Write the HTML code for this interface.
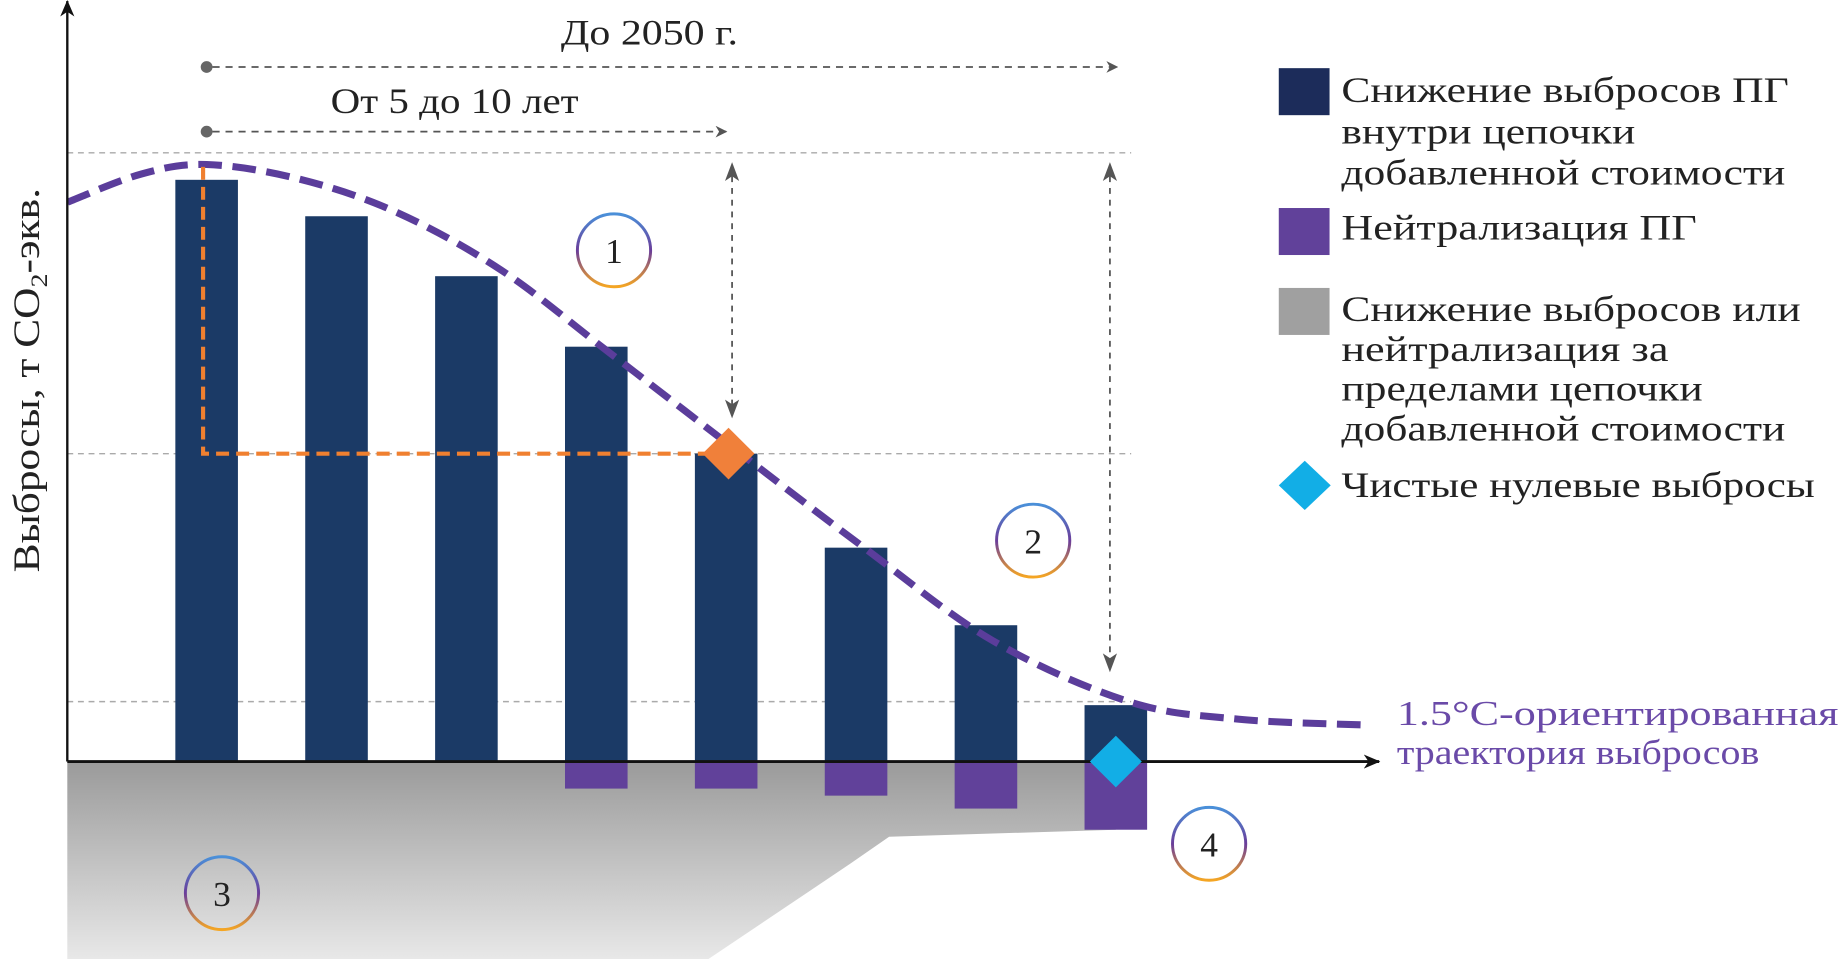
<!DOCTYPE html>
<html><head><meta charset="utf-8"><style>
html,body{margin:0;padding:0;background:#fff;}
svg{display:block;font-family:"Liberation Serif","Noto Serif CJK SC",serif;}
</style></head><body>
<svg id="chart" width="1842" height="959" viewBox="0 0 1560 816" preserveAspectRatio="none" xmlns="http://www.w3.org/2000/svg">
<defs>
<linearGradient id="grayGrad" x1="0" y1="0" x2="0" y2="1">
<stop offset="0" stop-color="#9a9a9a"/><stop offset="1" stop-color="#e8e8e8"/></linearGradient>
<linearGradient id="ringGrad" x1="0" y1="0" x2="0" y2="1">
<stop offset="0" stop-color="#4a90d9"/><stop offset="0.5" stop-color="#6a3d9a"/><stop offset="1" stop-color="#f5a623"/></linearGradient>
<marker id="arrGray" markerWidth="10" markerHeight="10" refX="9" refY="5" orient="auto" markerUnits="userSpaceOnUse"><path d="M0,0 L10,5 L0,10 L3,5 Z" fill="#555"/></marker>
<marker id="arrBlack" markerWidth="14" markerHeight="12" refX="13" refY="6" orient="auto" markerUnits="userSpaceOnUse"><path d="M0,0 L14,6 L0,12 L4,6 Z" fill="#111"/></marker>
</defs>
<g id="plot"></g>
<g id="overlay"></g>
</svg>
<script>
const categories = ['s1','s2','s3','s4','s5','s6','s7','s8'];
const reductionValues = [99, 92.8, 82.6, 70.6, 52.4, 36.4, 23.2, 9.6];
const neutralizationValues = [0, 0, 0, 4.6, 4.6, 5.8, 8, 11.6];
const curveX = [-1.07, -0.5, 0, 0.7, 1.45, 2.27, 3.1, 4.1, 5.05, 6.05, 7.1, 7.95, 8.95];
const curveY = [95.2, 100, 101.6, 99.2, 93.6, 83.6, 69.6, 52.6, 36.6, 20.6, 10.2, 7.2, 6.2];
const gridValues = [103.6, 52.4, 10.2];

const NS = 'http://www.w3.org/2000/svg';
const X0 = 175, XSTEP = 110, Y0 = 648, K = 5;
function xs(i){ return X0 + i*XSTEP; }
function ys(v){ return Y0 - v*K; }
const plot = document.getElementById('plot');
function mk(tag, attrs, parent){ const e=document.createElementNS(NS,tag); for(const k in attrs) e.setAttribute(k,attrs[k]); (parent||plot).appendChild(e); return e; }

let g = mk('polygon',{points:'57,648 945,648 945,706 753,712 720,735 600,816 57,816',fill:'url(#grayGrad)'});



gridValues.forEach((v,i)=>{
  const l = mk('line',{x1:57,x2:958,y1:ys(v),y2:ys(v),stroke:'#aaa','stroke-width':1.2,'stroke-dasharray':'5,4'});
  
  
});

const BW = 53;
categories.forEach((c,i)=>{
  const cx = xs(i);
  const b = mk('rect',{x:cx-BW/2,y:ys(reductionValues[i]),width:BW,height:reductionValues[i]*K,fill:'#1b3a66'});
  
  
  if(neutralizationValues[i]>0){
    const n = mk('rect',{x:cx-BW/2,y:Y0,width:BW,height:neutralizationValues[i]*K,fill:'#61419a'});
    
    
  }
});

let pts = curveX.map((x,i)=>[X0 + x*XSTEP, ys(curveY[i])]);
let d = 'M'+pts[0][0]+','+pts[0][1];
for(let i=0;i<pts.length-1;i++){
  const p0=pts[Math.max(0,i-1)], p1=pts[i], p2=pts[i+1], p3=pts[Math.min(pts.length-1,i+2)];
  const c1=[p1[0]+(p2[0]-p0[0])/6, p1[1]+(p2[1]-p0[1])/6];
  const c2=[p2[0]-(p3[0]-p1[0])/6, p2[1]-(p3[1]-p1[1])/6];
  d+=' C'+c1[0]+','+c1[1]+' '+c2[0]+','+c2[1]+' '+p2[0]+','+p2[1];
}
const curve = mk('path',{d:d,fill:'none',stroke:'#5b3d9b','stroke-width':6,'stroke-dasharray':'20,9'});


</script>
<script>
(function(){
const ov=document.getElementById('overlay');
ov.innerHTML = `
<path d="M172,142 L172,386 L612,386" fill="none" stroke="#f08030" stroke-width="3.5" stroke-dasharray="11,6"/>
<polygon points="617,364 639,386 617,408 595,386" fill="#f0803a"/>
<line x1="57" y1="648" x2="1168" y2="648" stroke="#111" stroke-width="2.5" marker-end="url(#arrBlack)"/>
<line x1="57" y1="648" x2="57" y2="1" stroke="#111" stroke-width="2" marker-end="url(#arrBlack)"/>
<polygon points="945,626 967,648 945,670 923,648" fill="#12aee6"/>
<circle cx="175" cy="57" r="5" fill="#666"/>
<line x1="180" y1="57" x2="946" y2="57" stroke="#555" stroke-width="1.5" stroke-dasharray="6,5" marker-end="url(#arrGray)"/>
<circle cx="175" cy="112" r="5" fill="#666"/>
<line x1="180" y1="112" x2="615" y2="112" stroke="#555" stroke-width="1.5" stroke-dasharray="6,5" marker-end="url(#arrGray)"/>
<g stroke="#555" stroke-width="1.5" stroke-dasharray="5,5">
<line x1="620" y1="150" x2="620" y2="350"/></g>
<path d="M620,138 L614,154 L620,150 L626,154 Z M620,356 L614,340 L620,344 L626,340 Z" fill="#555"/>
<g stroke="#555" stroke-width="1.5" stroke-dasharray="5,5">
<line x1="940" y1="150" x2="940" y2="560"/></g>
<path d="M940,138 L934,154 L940,150 L946,154 Z M940,572 L934,556 L940,560 L946,556 Z" fill="#555"/>
<text x="475" y="38" font-size="31" textLength="150" lengthAdjust="spacingAndGlyphs" fill="#222">До 2050 г.</text>
<text x="280" y="96" font-size="31" textLength="210" lengthAdjust="spacingAndGlyphs" fill="#222">От 5 до 10 лет</text>
<text transform="translate(33,487) rotate(-90)" font-size="31" textLength="327" lengthAdjust="spacingAndGlyphs" fill="#222">Выбросы, т CO<tspan font-size="20" dy="7">2</tspan><tspan dy="-7">-экв.</tspan></text>
<g><circle cx="520" cy="213" r="31" fill="#fff" stroke="url(#ringGrad)" stroke-width="2.5"/><text x="520" y="224" font-size="30" text-anchor="middle" fill="#222">1</text></g>
<g><circle cx="875" cy="460" r="31" fill="#fff" stroke="url(#ringGrad)" stroke-width="2.5"/><text x="875" y="471" font-size="30" text-anchor="middle" fill="#222">2</text></g>
<g><circle cx="188" cy="760" r="31" fill="none" stroke="url(#ringGrad)" stroke-width="2.5"/><text x="188" y="771" font-size="30" text-anchor="middle" fill="#222">3</text></g>
<g><circle cx="1024" cy="718" r="31" fill="#fff" stroke="url(#ringGrad)" stroke-width="2.5"/><text x="1024" y="729" font-size="30" text-anchor="middle" fill="#222">4</text></g>
<text font-size="30" fill="#6a4aa8"><tspan x="1183" y="617" textLength="374" lengthAdjust="spacingAndGlyphs">1.5°C-ориентированная</tspan><tspan x="1183" y="650" textLength="307" lengthAdjust="spacingAndGlyphs">траектория выбросов</tspan></text>
<g font-size="31" fill="#222">
<rect x="1083" y="58" width="43" height="40" fill="#1c2c5a"/>
<text><tspan x="1136" y="87" textLength="379" lengthAdjust="spacingAndGlyphs">Снижение выбросов ПГ</tspan><tspan x="1136" y="122" textLength="249" lengthAdjust="spacingAndGlyphs">внутри цепочки</tspan><tspan x="1136" y="157" textLength="376" lengthAdjust="spacingAndGlyphs">добавленной стоимости</tspan></text>
<rect x="1083" y="177" width="43" height="40" fill="#61419a"/>
<text x="1136" y="204" textLength="301" lengthAdjust="spacingAndGlyphs">Нейтрализация ПГ</text>
<rect x="1083" y="245" width="43" height="40" fill="#a0a0a0"/>
<text><tspan x="1136" y="273" textLength="389" lengthAdjust="spacingAndGlyphs">Снижение выбросов или</tspan><tspan x="1136" y="307" textLength="277" lengthAdjust="spacingAndGlyphs">нейтрализация за</tspan><tspan x="1136" y="341" textLength="306" lengthAdjust="spacingAndGlyphs">пределами цепочки</tspan><tspan x="1136" y="375" textLength="376" lengthAdjust="spacingAndGlyphs">добавленной стоимости</tspan></text>
<polygon points="1105,392 1127,413 1105,434 1083,413" fill="#12aee6"/>
<text x="1136" y="423" textLength="401" lengthAdjust="spacingAndGlyphs">Чистые нулевые выбросы</text>
</g>`;
})();
</script>
</body></html>
